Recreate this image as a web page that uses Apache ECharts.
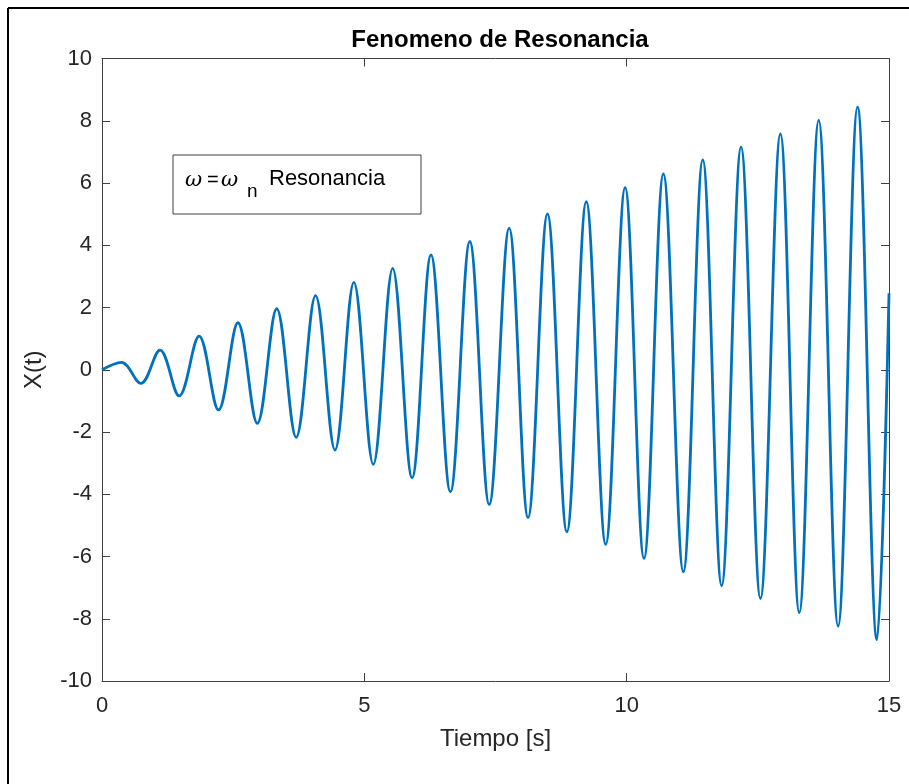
<!DOCTYPE html>
<html>
  <head>
    <meta charset="utf-8" />
    <script src="https://cdn.jsdelivr.net/npm/echarts@6/dist/echarts.min.js"></script>
  </head>
  <body style="margin: 0; background: #fff">
    <div id="chart" style="width: 909px; height: 784px"></div>
    <script>
      // picos y valles (más inicio y final)
      const tiempo = [
        0, 0.37, 0.74, 1.105, 1.47, 1.85, 2.22, 2.59, 2.96, 3.33, 3.7, 4.07, 4.44, 4.8, 5.17,
        5.54, 5.91, 6.27, 6.64, 7.01, 7.38, 7.76, 8.12, 8.49, 8.86, 9.23, 9.6, 9.97, 10.33,
        10.7, 11.08, 11.45, 11.81, 12.18, 12.55, 12.93, 13.29, 13.66, 14.03, 14.4, 14.77, 15
      ]
      const posicion = [
        0, 0.24, -0.44, 0.63, -0.84, 1.08, -1.29, 1.51, -1.72, 1.96, -2.17, 2.38, -2.58, 2.81, -3.04,
        3.26, -3.47, 3.69, -3.92, 4.12, -4.33, 4.55, -4.75, 5.01, -5.21, 5.4, -5.61, 5.85, -6.06,
        6.29, -6.49, 6.74, -6.94, 7.15, -7.35, 7.58, -7.8, 8.01, -8.24, 8.44, -8.67, 2.46
      ]
      const xTicks = [0, 15, 5]
      const yTicks = [-10, 10, 2]

      const font = 'Liberation Sans, Arial, sans-serif'
      const axisColor = '#404040'
      const textColor = '#262626'

      const chart = echarts.init(document.getElementById('chart'), null, { renderer: 'canvas' })

      const baseX = {
        type: 'value',
        min: xTicks[0],
        max: xTicks[1],
        interval: xTicks[2],
        axisLine: { show: true, onZero: false, lineStyle: { color: axisColor, width: 1 } },
        axisTick: { show: true, inside: true, length: 8, lineStyle: { color: axisColor } },
        splitLine: { show: false }
      }
      const baseY = {
        type: 'value',
        min: yTicks[0],
        max: yTicks[1],
        interval: yTicks[2],
        axisLine: { show: true, onZero: false, lineStyle: { color: axisColor, width: 1 } },
        axisTick: { show: true, inside: true, length: 8, lineStyle: { color: axisColor } },
        splitLine: { show: false }
      }

      const option = {
        animation: false,
        backgroundColor: '#fff',
        grid: { left: 102, right: 20, top: 58.5, bottom: 103 },
        xAxis: [
          Object.assign({}, baseX, {
            position: 'bottom',
            axisLabel: { color: textColor, fontSize: 22, fontFamily: font, margin: 14 },
            name: 'Tiempo [s]',
            nameLocation: 'middle',
            nameGap: 46,
            nameTextStyle: { color: textColor, fontSize: 24, fontFamily: font }
          }),
          Object.assign({}, baseX, { position: 'top', axisLabel: { show: false } })
        ],
        yAxis: [
          Object.assign({}, baseY, {
            position: 'left',
            axisLabel: { color: textColor, fontSize: 22, fontFamily: font, margin: 10 },
            name: 'X(t)',
            nameLocation: 'middle',
            nameGap: 56,
            nameTextStyle: { color: textColor, fontSize: 24, fontFamily: font }
          }),
          Object.assign({}, baseY, { position: 'right', axisLabel: { show: false } })
        ],
        title: {
          text: 'Fenomeno de Resonancia',
          left: 495,
          top: 23,
          textAlign: 'center',
          textStyle: { color: '#000', fontSize: 24, fontWeight: 'bold', fontFamily: font }
        },
        series: [
          {
            type: 'line',
            data: tiempo.map((t, i) => [t, posicion[i]]),
            showSymbol: false,
            smooth: 0.364,
            lineStyle: { color: '#0072BD', width: 2.8 },
            clip: true
          }
        ],
        graphic: [
          // marco exterior
          { type: 'line', shape: { x1: 8, y1: 8, x2: 909, y2: 8 }, style: { stroke: '#000', lineWidth: 2 } },
          { type: 'line', shape: { x1: 8, y1: 8, x2: 8, y2: 784 }, style: { stroke: '#000', lineWidth: 2 } },
          // leyenda
          {
            type: 'rect',
            shape: { x: 173, y: 155, width: 248, height: 59 },
            style: { fill: '#fff', stroke: axisColor, lineWidth: 1 }
          },
          {
            type: 'text', x: 185, y: 181,
            style: { text: 'ω', fontSize: 21, fontStyle: 'italic', fontFamily: 'DejaVu Serif, serif', fill: '#000', verticalAlign: 'middle' }
          },
          {
            type: 'text', x: 207, y: 180,
            style: { text: '=', fontSize: 20, fontFamily: font, fill: '#000', verticalAlign: 'middle' }
          },
          {
            type: 'text', x: 221, y: 181,
            style: { text: 'ω', fontSize: 21, fontStyle: 'italic', fontFamily: 'DejaVu Serif, serif', fill: '#000', verticalAlign: 'middle' }
          },
          {
            type: 'text', x: 247, y: 192,
            style: { text: 'n', fontSize: 19, fontFamily: font, fill: '#000', verticalAlign: 'middle' }
          },
          {
            type: 'text', x: 269, y: 179,
            style: { text: 'Resonancia', fontSize: 22, fontFamily: font, fill: '#000', verticalAlign: 'middle' }
          }
        ]
      }

      chart.setOption(option)
    </script>
  </body>
</html>
